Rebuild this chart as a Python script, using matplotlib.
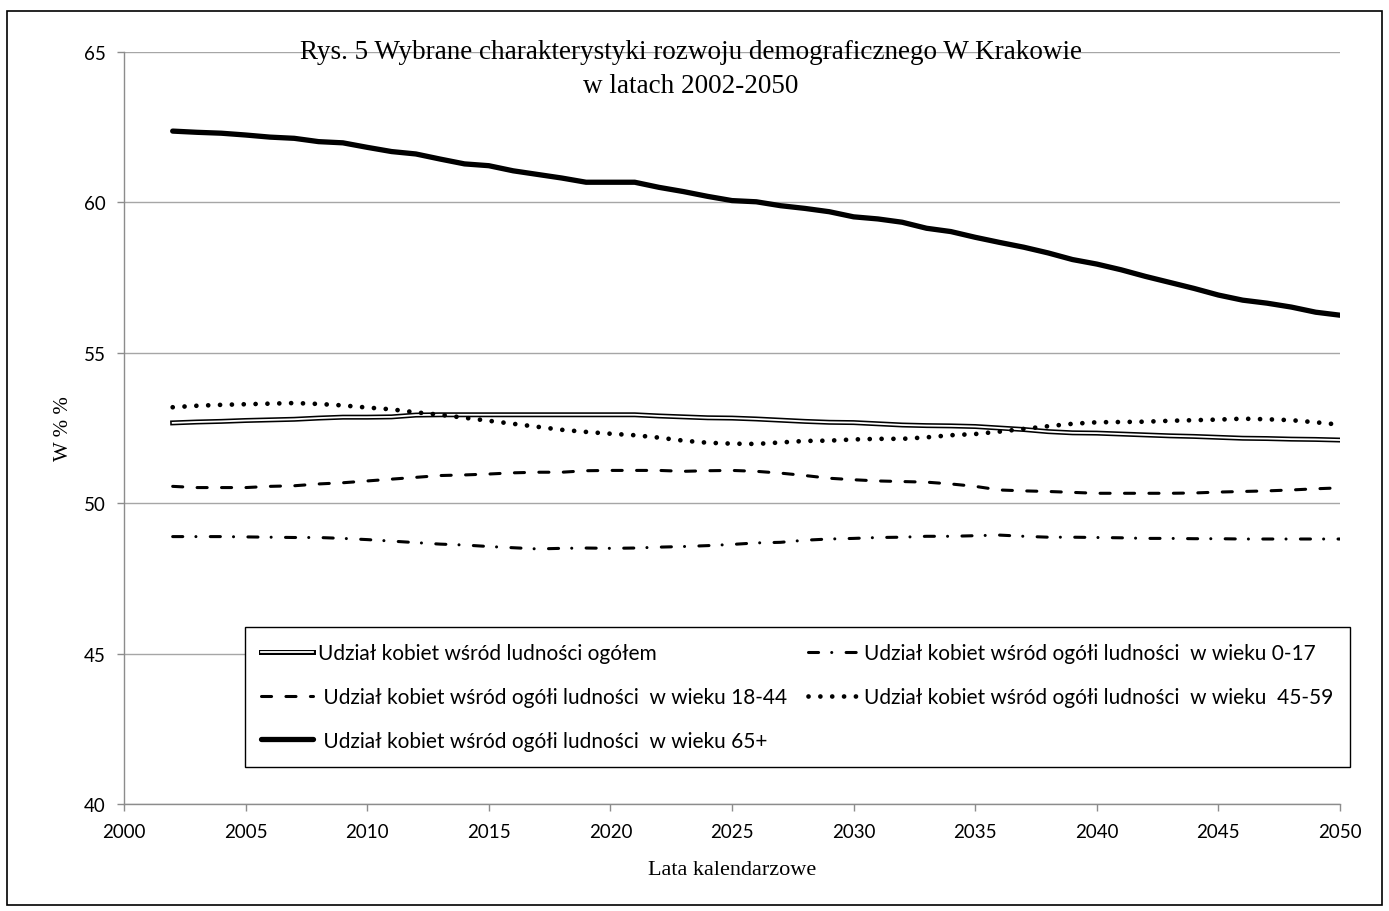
import numpy as np
import matplotlib
matplotlib.use("Agg")
import matplotlib.pyplot as plt
import matplotlib.patheffects as pe
from matplotlib.patches import Rectangle

# Lata prognozy
years = list(range(2002, 2051))

# Udzial kobiet (w %)
total = [52.67, 52.70, 52.72, 52.75, 52.77, 52.79, 52.83, 52.86, 52.86, 52.87,
         52.93, 52.94, 52.94, 52.94, 52.94, 52.94, 52.94, 52.94, 52.94, 52.94,
         52.90, 52.87, 52.84, 52.83, 52.80, 52.76, 52.72, 52.69, 52.68, 52.64,
         52.60, 52.58, 52.57, 52.55, 52.50, 52.45, 52.38, 52.34, 52.33, 52.30,
         52.27, 52.24, 52.22, 52.19, 52.16, 52.15, 52.13, 52.12, 52.10]
age_0_17 = [48.89, 48.89, 48.89, 48.88, 48.87, 48.86, 48.86, 48.83, 48.79, 48.74,
            48.69, 48.64, 48.61, 48.56, 48.52, 48.48, 48.50, 48.51, 48.50, 48.51,
            48.54, 48.56, 48.59, 48.63, 48.68, 48.70, 48.77, 48.81, 48.83, 48.86,
            48.87, 48.90, 48.90, 48.92, 48.94, 48.90, 48.87, 48.87, 48.86, 48.85,
            48.83, 48.83, 48.82, 48.82, 48.81, 48.81, 48.81, 48.81, 48.81]
age_18_44 = [50.56, 50.52, 50.52, 50.52, 50.56, 50.58, 50.64, 50.68, 50.74, 50.80,
             50.86, 50.92, 50.94, 50.97, 51.01, 51.03, 51.03, 51.08, 51.09, 51.09,
             51.09, 51.06, 51.08, 51.09, 51.06, 51.00, 50.92, 50.83, 50.78, 50.74,
             50.72, 50.70, 50.64, 50.56, 50.44, 50.41, 50.39, 50.36, 50.33, 50.33,
             50.33, 50.33, 50.34, 50.37, 50.39, 50.41, 50.44, 50.48, 50.51]
age_45_59 = [53.19, 53.24, 53.27, 53.29, 53.31, 53.33, 53.30, 53.25, 53.18, 53.12,
             53.02, 52.94, 52.84, 52.74, 52.64, 52.54, 52.44, 52.37, 52.31, 52.26,
             52.18, 52.08, 52.01, 51.98, 51.97, 52.02, 52.07, 52.08, 52.12, 52.14,
             52.14, 52.19, 52.26, 52.30, 52.38, 52.47, 52.56, 52.64, 52.69, 52.70,
             52.71, 52.74, 52.76, 52.78, 52.81, 52.79, 52.76, 52.69, 52.61]
age_65 = [62.37, 62.33, 62.30, 62.24, 62.17, 62.13, 62.02, 61.98, 61.83, 61.69,
          61.61, 61.44, 61.28, 61.22, 61.05, 60.93, 60.81, 60.67, 60.67, 60.67,
          60.50, 60.36, 60.20, 60.06, 60.02, 59.89, 59.80, 59.69, 59.52, 59.45,
          59.34, 59.14, 59.03, 58.84, 58.67, 58.51, 58.32, 58.10, 57.95, 57.76,
          57.54, 57.34, 57.14, 56.92, 56.75, 56.65, 56.52, 56.35, 56.25]

labels = [
    "Udział kobiet wśród ludności ogółem",
    "Udział kobiet wśród ogółi ludności  w wieku 0-17",
    " Udział kobiet wśród ogółi ludności  w wieku 18-44",
    "Udział kobiet wśród ogółi ludności  w wieku  45-59",
    " Udział kobiet wśród ogółi ludności  w wieku 65+",
]

title = "Rys. 5 Wybrane charakterystyki rozwoju demograficznego W Krakowie\nw latach 2002-2050"
serif = "Liberation Serif"
sans = "Lato"

fig = plt.figure(figsize=(13.89, 9.12), dpi=100)
ax = fig.add_axes([0.0893, 0.1173, 0.8754, 0.8246])

# linia podwojna (biala z czarna obwodka)
l_total, = ax.plot(years, total, color="white", lw=1.3,
                   path_effects=[pe.Stroke(linewidth=3.6, foreground="black"), pe.Normal()])
l_0_17, = ax.plot(years, age_0_17, color="black", lw=2.2,
                  dashes=(3.3, 4.3, 0.01, 4.7), dash_capstyle="round")
l_18_44, = ax.plot(years, age_18_44, color="black", lw=2.2,
                   dashes=(3.3, 4.7), dash_capstyle="round")
l_45_59, = ax.plot(years, age_45_59, color="black", lw=3.4,
                   dashes=(0.01, 2.5), dash_capstyle="round")
l_65, = ax.plot(years, age_65, color="black", lw=3.8, solid_capstyle="round")

ax.set_xlim(2000, 2050)
ax.set_ylim(40, 65)
ax.set_xticks(range(2000, 2051, 5))
ax.set_yticks(range(40, 66, 5))
ax.grid(axis="y", color="#a6a6a6", lw=1.0)
ax.set_axisbelow(True)
for s in ["top", "right"]:
    ax.spines[s].set_visible(False)
for s in ["left", "bottom"]:
    ax.spines[s].set_color("#8c8c8c")
    ax.spines[s].set_linewidth(1.0)
ax.tick_params(colors="#8c8c8c", length=5, width=1.0, labelcolor="black",
               labelsize=13.5, direction="out")
for t in ax.get_xticklabels() + ax.get_yticklabels():
    t.set_fontfamily(sans)
ax.tick_params(axis="y", pad=8)
ax.tick_params(axis="x", pad=9)

ax.set_xlabel("Lata kalendarzowe", fontfamily=serif, fontsize=16, labelpad=14)
ax.set_ylabel("W % %", fontfamily=serif, fontsize=15, labelpad=8)

fig.text(0.4975, 0.9235, title, ha="center", va="center", fontfamily=serif,
         fontsize=19.5, linespacing=1.45)

handles = [l_total, l_18_44, l_65, l_0_17, l_45_59]
hlabels = [labels[0], labels[2], labels[4], labels[1], labels[3]]
leg = ax.legend(handles, hlabels, ncol=2, loc="lower left",
                bbox_to_anchor=(0.0995, 0.0492, 0.9087, 0.181), mode="expand",
                prop={"family": sans, "size": 15.0}, frameon=True, fancybox=False,
                edgecolor="black", framealpha=1, handlelength=2.5, handletextpad=0.2,
                borderaxespad=0, borderpad=0.78, labelspacing=1.14)
leg.get_frame().set_linewidth(1.0)

# ramka wokol calego rysunku
fig.patches.append(Rectangle((7 / 1389, 1 - 906 / 912), 1375 / 1389, 894 / 912,
                             transform=fig.transFigure, fill=False, lw=1.2, ec="black"))

fig.savefig("out.png", dpi=100)
